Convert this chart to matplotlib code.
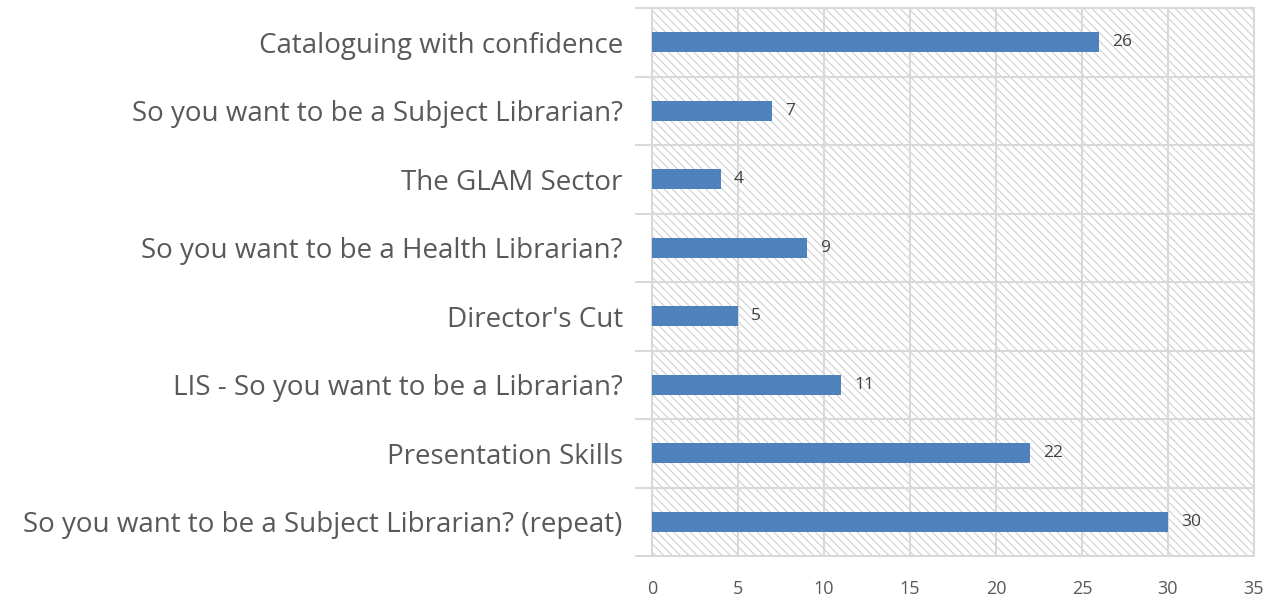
import matplotlib
matplotlib.use("Agg")
import matplotlib.pyplot as plt
import numpy as np

# categories listed bottom to top
courses = [
    "So you want to be a Subject Librarian? (repeat)",
    "Presentation Skills",
    "LIS - So you want to be a Librarian?",
    "Director's Cut",
    "So you want to be a Health Librarian?",
    "The GLAM Sector",
    "So you want to be a Subject Librarian?",
    "Cataloguing with confidence",
]
attendees = [30, 22, 11, 5, 9, 4, 7, 26]
xticks = [0, 5, 10, 15, 20, 25, 30, 35]

plt.rcParams['font.family'] = ['Open Sans', 'DejaVu Sans']
plt.rcParams['hatch.color'] = '#d0d0d0'
plt.rcParams['hatch.linewidth'] = 0.8

grid_col = '#d9d9d9'
text_col = '#595959'

fig = plt.figure(figsize=(12.84, 6.03), dpi=100)
ax = fig.add_axes([652 / 1284, 1 - 556 / 603, (1254 - 652) / 1284, (556 - 8) / 603])

ax.patch.set_facecolor('white')
ax.patch.set_hatch('\\\\\\\\')
ax.patch.set_edgecolor('#d0d0d0')

y = np.arange(len(courses))
bars = ax.barh(y, attendees, height=0.29, color='#4f81bd', zorder=3)

for yi, v in zip(y, attendees):
    ax.text(v + 0.75, yi, str(v), va='center', ha='left', fontsize=12.5,
            color='#404040', zorder=4)

ax.set_xlim(0, 35)
ax.set_ylim(-0.5, len(courses) - 0.5)
ax.set_xticks(xticks)
ax.set_xticklabels([str(t) for t in xticks], fontsize=13, color=text_col)
ax.set_yticks(y)
ax.set_yticklabels(courses, fontsize=20, color=text_col)
ax.set_yticks(np.arange(-0.5, len(courses)), minor=True)

ax.tick_params(axis='x', length=0, pad=17)
ax.tick_params(axis='y', which='major', length=0, pad=21)
ax.tick_params(axis='y', which='minor', length=12, color=grid_col, width=1.5)

ax.grid(axis='x', which='major', color=grid_col, linewidth=1.5, zorder=1)
ax.grid(axis='y', which='minor', color=grid_col, linewidth=1.5, zorder=1)
ax.set_axisbelow(True)

for s in ax.spines.values():
    s.set_color(grid_col)
    s.set_linewidth(1.5)

fig.savefig("out.png", dpi=100)
